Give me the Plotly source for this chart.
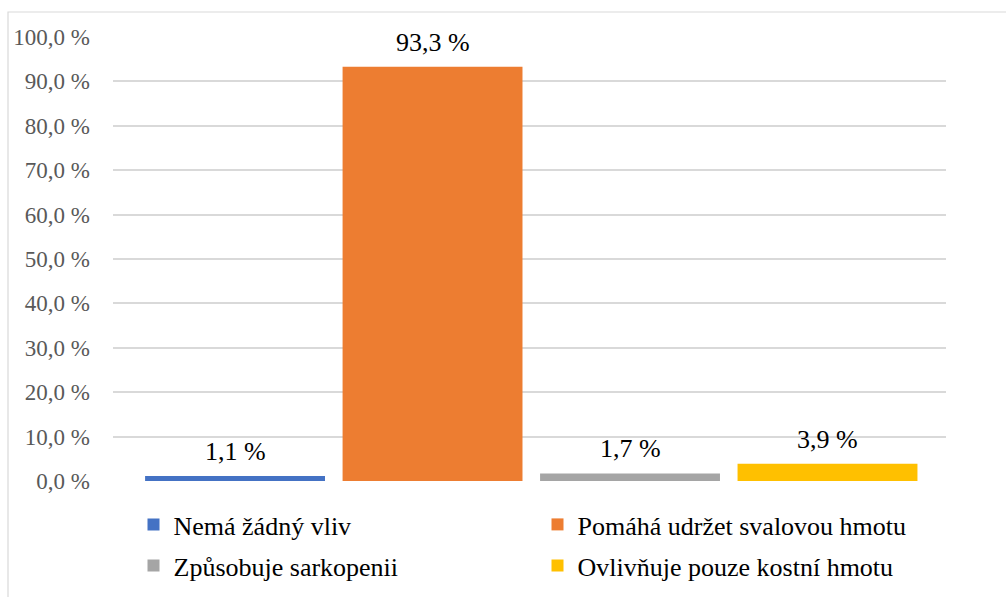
import plotly.graph_objects as go

categories = ["Nemá žádný vliv", "Pomáhá udržet svalovou hmotu",
              "Způsobuje sarkopenii", "Ovlivňuje pouze kostní hmotu"]
values = [1.1, 93.3, 1.7, 3.9]
colors = ["#4472C4", "#ED7D31", "#A5A5A5", "#FFC000"]
tick_vals = [0, 10, 20, 30, 40, 50, 60, 70, 80, 90, 100]
tick_text = ["0,0 %", "10,0 %", "20,0 %", "30,0 %", "40,0 %", "50,0 %",
             "60,0 %", "70,0 %", "80,0 %", "90,0 %", "100,0 %"]
label_text = ["1,1 %", "93,3 %", "1,7 %", "3,9 %"]
legend_rows = ["legend", "legend", "legend2", "legend2"]

FONT = "Liberation Serif, Times New Roman, serif"
W, H = 1006, 597
L, R, T, B = 113, 60, 37, 116
pw, ph = W - L - R, H - T - B

fig = go.Figure()
for i, (c, v, col, lg) in enumerate(zip(categories, values, colors, legend_rows)):
    fig.add_trace(go.Bar(
        x=[i], y=[v], name=c, marker=dict(color=col, line=dict(width=0)),
        width=0.911, legend=lg, hoverinfo="skip",
    ))

annotations = [
    dict(x=i, y=v, xref="x", yref="y", text=t, showarrow=False,
         yanchor="bottom", xanchor="center", yshift=8,
         font=dict(family=FONT, size=26, color="#000000"))
    for i, (v, t) in enumerate(zip(values, label_text))
]

legend_common = dict(orientation="h", x=(133.5 - L) / pw, xanchor="left",
                     yanchor="top", entrywidth=359, entrywidthmode="pixels",
                     itemwidth=30, tracegroupgap=0,
                     font=dict(family=FONT, size=26, color="#000000"),
                     bgcolor="rgba(0,0,0,0)", borderwidth=0)

fig.update_layout(
    width=W, height=H,
    autosize=False,
    margin=dict(l=L, r=R, t=T, b=B, pad=0, autoexpand=False),
    paper_bgcolor="white", plot_bgcolor="white",
    barmode="overlay",
    font=dict(family=FONT, size=20, color="#000000"),
    showlegend=True,
    legend=dict(legend_common, y=(481 - 501) / ph),
    legend2=dict(legend_common, y=(481 - 542) / ph),
    annotations=annotations,
    xaxis=dict(range=[-0.618, 3.6], showticklabels=False, showgrid=False,
               zeroline=False, showline=False, ticks=""),
    yaxis=dict(range=[0, 100], tickmode="array", tickvals=tick_vals,
               ticktext=tick_text,
               showgrid=True, gridcolor="#D9D9D9",
               gridwidth=1.5, zeroline=False, showline=False, ticks="",
               ticklabelstandoff=22,
               tickfont=dict(family=FONT, size=23, color="#595959")),
    shapes=[dict(type="rect", xref="paper", yref="paper",
                 x0=(8 - L) / pw, x1=(1020 - L) / pw,
                 y0=(481 - 620) / ph, y1=(481 - 12) / ph,
                 line=dict(color="#D9D9D9", width=1.2), layer="below")],
)

fig.write_html("out.html", config={"displayModeBar": False},
               post_script="document.body.style.margin='0';document.body.style.padding='0';")
